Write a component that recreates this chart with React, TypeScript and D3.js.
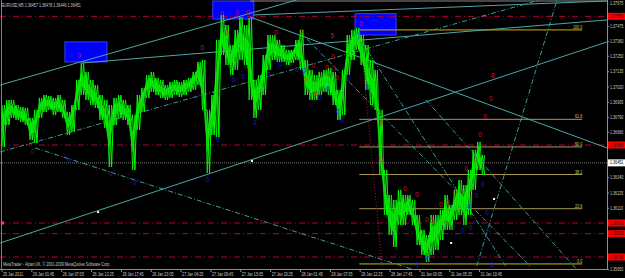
import React from "react";
import * as d3 from "d3";

// ---------- DATA ----------
const symbolTitle = "EURUSD,M5  1.36457 1.36478 1.36446 1.36451";
const footerText = "MetaTrader - Alpari UK, \u00a9 2001-2009 MetaQuotes Software Corp.";

// one sample every 10 bars (M5)
const sampleStep = 10;
const priceHigh = [
  1.36885, 1.36923, 1.36923, 1.36885, 1.3687, 1.36863, 1.36788, 1.36848, 1.36938, 1.3696,
  1.36953, 1.36938, 1.3696, 1.36923, 1.36833, 1.36885, 1.37073, 1.372, 1.37133, 1.37073,
  1.37035, 1.3696, 1.36923, 1.36885, 1.36938, 1.3696, 1.36923, 1.36885, 1.3681, 1.3696,
  1.37013, 1.3711, 1.37133, 1.37088, 1.37073, 1.37035, 1.37058, 1.37073, 1.37058, 1.37073,
  1.37088, 1.37133, 1.37208, 1.37223, 1.36848, 1.3696, 1.37373, 1.3756, 1.37485, 1.37335,
  1.37448, 1.37545, 1.37485, 1.37538, 1.37073, 1.3711, 1.3726, 1.3741, 1.3741, 1.37373,
  1.37335, 1.37298, 1.37298, 1.37373, 1.37448, 1.37223, 1.37148, 1.3711, 1.37133, 1.37148,
  1.37163, 1.37133, 1.36998, 1.37148, 1.3741, 1.37448, 1.37463, 1.3741, 1.37335, 1.37223,
  1.37148, 1.36848, 1.36398, 1.3621, 1.36173, 1.36248, 1.3621, 1.3621, 1.36173, 1.3606,
  1.35948, 1.3591, 1.3606, 1.3606, 1.36098, 1.3621, 1.36135, 1.36248, 1.36323, 1.36285,
  1.36398, 1.36548, 1.36608, 1.3651
];
const priceLow = [
  1.3657, 1.36735, 1.36788, 1.36773, 1.36758, 1.36735, 1.36623, 1.366, 1.36788, 1.36833,
  1.36848, 1.3681, 1.36833, 1.36788, 1.3666, 1.36683, 1.36848, 1.3696, 1.36923, 1.36885,
  1.36863, 1.36773, 1.36713, 1.3642, 1.36735, 1.36788, 1.36773, 1.36735, 1.36398, 1.36698,
  1.36833, 1.36938, 1.36983, 1.3696, 1.36938, 1.36923, 1.36938, 1.3696, 1.36945, 1.3696,
  1.36983, 1.36998, 1.37035, 1.36848, 1.36375, 1.3666, 1.36645, 1.3726, 1.37185, 1.3711,
  1.37148, 1.37223, 1.37185, 1.36923, 1.36788, 1.36848, 1.3696, 1.37148, 1.37223, 1.37208,
  1.37208, 1.37185, 1.372, 1.37223, 1.37148, 1.3696, 1.36923, 1.36923, 1.3696, 1.36983,
  1.3696, 1.36885, 1.36773, 1.3681, 1.3711, 1.37223, 1.37298, 1.37185, 1.36998, 1.36885,
  1.36848, 1.3636, 1.3606, 1.3591, 1.3582, 1.35985, 1.35985, 1.3606, 1.35985, 1.35835,
  1.3576, 1.35708, 1.3576, 1.35798, 1.35873, 1.35948, 1.35948, 1.36023, 1.3606, 1.35985,
  1.3606, 1.36248, 1.36398, 1.3636
];

const timeLabels = [
  "25 Jan 2011", "26 Jan 01:45", "26 Jan 07:05", "26 Jan 12:25", "26 Jan 17:45",
  "26 Jan 23:05", "27 Jan 04:25", "27 Jan 09:45", "27 Jan 15:05", "27 Jan 20:25",
  "28 Jan 01:45", "28 Jan 07:05", "28 Jan 12:25", "28 Jan 17:45", "31 Jan 00:05",
  "31 Jan 05:25", "31 Jan 10:45"
];
const barsPerTimeLabel = 64;

const priceTicks = [
  1.37475, 1.3736, 1.3725, 1.37135, 1.3702, 1.36905, 1.3679, 1.3668,
  1.3634, 1.36225, 1.3611, 1.3565
];
const topPrice = 1.37675;

// horizontal lines (crimson dash-dot) with price labels
const hLinePrices = [1.3755, 1.36585, 1.36, 1.3592, 1.35745];
const bidPrice = 1.36451;

// Fibonacci retracement
const fibHigh = 1.37448;
const fibLow = 1.35693;
const fibLevels = [0, 23.6, 38.2, 50, 61.8, 100];
const fibBarStart = 766;
const fibBarEnd = 1244;

// rectangles [bar1, bar2, priceTop, priceBottom]
const boxes = [
  [135, 225, 1.37358, 1.37208],
  [452, 540, 1.37665, 1.3753],
  [757, 845, 1.3757, 1.3741]
];

// trend lines [bar1, price1, bar2, price2]
const solidLines = [
  [-4, 1.37035, 632, 1.37673],
  [171, 1.372, 1297, 1.37523],
  [538, 1.3756, 1297, 1.37665],
  [532, 1.37545, 1297, 1.36563],
  [-4, 1.3585, 1297, 1.37358]
];
const dashDotLines = [
  [-4, 1.36533, 1153, 1.37673],
  [71, 1.36563, 918, 1.3561],
  [639, 1.37433, 1132, 1.35678],
  [909, 1.36923, 1233, 1.35648],
  [762, 1.3741, 1080, 1.35678],
  [1018, 1.35678, 1190, 1.37673]
];
const redDottedLines = [[768, 1.3741, 815, 1.35678]];
const grayTopLine = [532, 1.37665, 1297, 1.37665];

// wave labels [bar, price, text]
const redLabels: [number, number, string][] = [
  [165, 1.37253, "0"], [429, 1.37313, "0"], [472, 1.37568, "0"], [504, 1.37575, "0"],
  [527, 1.37575, "0"], [482, 1.37425, "0"], [587, 1.37425, "0"], [641, 1.37433, "0"],
  [708, 1.37403, "5"], [770, 1.37493, "0"], [710, 1.37245, "0"], [742, 1.37253, "0"],
  [667, 1.37178, "0"], [697, 1.37163, "0"], [712, 1.37155, "0"], [650, 1.37073, "0"],
  [678, 1.37073, "0"], [718, 1.37088, "0"], [671, 1.3696, "0"], [813, 1.3675, "0"],
  [813, 1.36473, "0"], [864, 1.3625, "0"], [1053, 1.37103, "8"], [1048, 1.3693, "0"],
  [1036, 1.36795, "0"], [1025, 1.3666, "0"], [1016, 1.36473, "0"], [995, 1.36405, "0"],
  [1012, 1.36308, "0"], [890, 1.3621, "0"], [971, 1.36225, "0"], [986, 1.36233, "0"],
  [941, 1.36135, "0"], [956, 1.3615, "0"], [911, 1.36023, "0"], [922, 1.36015, "0"]
];
const blueLabels: [number, number, string][] = [
  [66, 1.36533, "0"], [144, 1.36465, "0"], [234, 1.36367, "0"], [285, 1.363, "0"],
  [440, 1.36322, "0"], [463, 1.36623, "0"], [542, 1.3675, "0"], [497, 1.37073, "0"],
  [517, 1.37095, "0"], [572, 1.3711, "0"], [596, 1.37185, "0"], [632, 1.37148, "0"],
  [647, 1.3714, "0"], [699, 1.37005, "0"], [744, 1.3708, "0"], [785, 1.37013, "0"],
  [682, 1.36938, "0"], [720, 1.36833, "0"], [729, 1.36765, "0"], [1031, 1.3628, "0"],
  [1018, 1.36198, "0"], [1003, 1.3612, "0"], [1040, 1.36075, "0"], [967, 1.35963, "0"],
  [988, 1.3594, "0"], [1005, 1.35963, "0"], [1044, 1.35948, "0"], [913, 1.3573, "0"],
  [890, 1.3568, "0"], [1050, 1.3568, "0"]
];
const whiteDots = [[206, 1.36082], [536, 1.36465], [963, 1.3585], [1055, 1.3618]];

// ---------- LAYOUT ----------
const W = 625;
const H = 278;
const plotRight = 607;
const plotBottom = 269;
const FONT = "'Liberation Sans', Arial, sans-serif";
const FS = 4.6;
const SX = 0.8; // horizontal squeeze of the small terminal font

function SmallText(props: { x: number; y: number; fill: string; children: string; anchor?: string }) {
  return (
    <g transform={`translate(${props.x},${props.y}) scale(${SX},1)`}>
      <text x={0} y={0} fontSize={FS} fill={props.fill} textAnchor={props.anchor || "start"}>
        {props.children}
      </text>
    </g>
  );
}

export default function App() {
  const x = d3.scaleLinear().domain([0, barsPerTimeLabel]).range([2, 31.85]);
  const y = d3.scaleLinear().domain([1.35655, 1.376725]).range([plotBottom, 0]);

  const idx = d3.range(priceHigh.length);
  const half = sampleStep / 2;
  const zigA: [number, number][] = [];
  const zigB: [number, number][] = [];
  idx.forEach((i) => {
    zigA.push([x(i * sampleStep), y(priceHigh[i])]);
    zigA.push([x(i * sampleStep + half), y(priceLow[i])]);
    zigB.push([x(i * sampleStep), y(priceLow[i])]);
    zigB.push([x(i * sampleStep + half), y(priceHigh[i])]);
  });
  const line = d3.line();
  const area = d3
    .area<number>()
    .x((i) => x(i * sampleStep))
    .y0((i) => y(priceLow[i]) - (y(priceLow[i]) - y(priceHigh[i])) * 0.3)
    .y1((i) => y(priceHigh[i]) + (y(priceLow[i]) - y(priceHigh[i])) * 0.3);

  const fibPrice = (lv: number) => fibLow + (fibHigh - fibLow) * (lv / 100);

  const seg = (l: number[], key: string, stroke: string, dash?: string, w = 1) => (
    <line
      key={key}
      x1={x(l[0])}
      y1={y(l[1])}
      x2={x(l[2])}
      y2={y(l[3])}
      stroke={stroke}
      strokeWidth={w}
      strokeDasharray={dash}
    />
  );

  return (
    <svg
      width={W}
      height={H}
      style={{ position: "absolute", left: 0, top: 0, background: "#000" }}
      fontFamily={FONT}
    >
      <rect x={0} y={0} width={W} height={H} fill="#000" />
      <defs>
        <clipPath id="plot">
          <rect x={0} y={0} width={plotRight} height={plotBottom} />
        </clipPath>
      </defs>

      <g clipPath="url(#plot)">
        {boxes.map((b, i) => (
          <rect
            key={"b" + i}
            x={x(b[0])}
            y={y(b[2])}
            width={x(b[1]) - x(b[0])}
            height={y(b[3]) - y(b[2])}
            fill="#0000ff"
            stroke="#3a3aff"
            strokeWidth={1}
          />
        ))}

        {hLinePrices.map((p, i) => (
          <line
            key={"h" + i}
            x1={0}
            x2={plotRight}
            y1={y(p)}
            y2={y(p)}
            stroke="#b4003c"
            strokeWidth={1}
            strokeDasharray="6,3,1,3"
          />
        ))}
        <line x1={0} x2={plotRight} y1={y(bidPrice)} y2={y(bidPrice)} stroke="#777" strokeDasharray="1,1" />

        {seg(grayTopLine, "gt", "#8a8a8a")}

        {fibLevels.map((lv) => (
          <line
            key={"f" + lv}
            x1={x(fibBarStart)}
            x2={x(fibBarEnd)}
            y1={y(fibPrice(lv))}
            y2={y(fibPrice(lv))}
            stroke={lv === 0 || lv === 100 ? "#c8b400" : "#a89858"}
            strokeWidth={1}
          />
        ))}

        {solidLines.map((l, i) => seg(l, "s" + i, "#4fa6a6"))}
        {dashDotLines.map((l, i) => seg(l, "d" + i, "#3f9a9a", "5,2,1,2"))}
        {redDottedLines.map((l, i) => seg(l, "r" + i, "#c0105a", "1,2"))}

        <path d={area(idx) || ""} fill="#00d000" />
        <path d={line(zigA) || ""} fill="none" stroke="#00ff00" strokeWidth={1} />
        <path d={line(zigB) || ""} fill="none" stroke="#10e010" strokeWidth={1} />

        {redLabels.map((l, i) => (
          <text
            key={"rl" + i}
            x={x(l[0])}
            y={y(l[1])}
            textAnchor="middle"
            dominantBaseline="middle"
            fontSize={6.5}
            fill="#d0103c"
          >
            {l[2]}
          </text>
        ))}
        {blueLabels.map((l, i) => (
          <text
            key={"bl" + i}
            x={x(l[0])}
            y={y(l[1])}
            textAnchor="middle"
            dominantBaseline="middle"
            fontSize={6.5}
            fill="#1818e8"
          >
            {l[2]}
          </text>
        ))}
        {whiteDots.map((d, i) => (
          <rect key={"w" + i} x={x(d[0]) - 1} y={y(d[1]) - 1} width={2} height={2} fill="#fff" />
        ))}
        <rect x={1} y={y(1.36) - 1.5} width={3} height={3} fill="#ff4040" />
      </g>

      {fibLevels.map((lv) => (
        <SmallText key={"ft" + lv} x={x(fibBarEnd)} y={y(fibPrice(lv)) - 1} fill="#d8c860" anchor="end">
          {lv.toFixed(1)}
        </SmallText>
      ))}

      <SmallText x={2} y={7} fill="#c8c8c8">
        {symbolTitle}
      </SmallText>
      <SmallText x={3} y={266} fill="#c8c8c8">
        {footerText}
      </SmallText>

      <line x1={1.5} x2={1.5} y1={0} y2={plotBottom} stroke="#808080" />
      <line x1={plotRight + 0.5} x2={plotRight + 0.5} y1={0} y2={plotBottom + 0.5} stroke="#909090" />
      <line x1={0} x2={plotRight} y1={plotBottom + 0.5} y2={plotBottom + 0.5} stroke="#909090" />

      <SmallText x={610} y={y(topPrice) + 5} fill="#c8c8c8">
        {topPrice.toFixed(5)}
      </SmallText>
      {priceTicks.map((p) => (
        <g key={"pt" + p}>
          <line x1={plotRight} x2={plotRight + 2} y1={y(p)} y2={y(p)} stroke="#909090" />
          <SmallText x={610} y={y(p) + 1.6} fill="#c8c8c8">
            {p.toFixed(5)}
          </SmallText>
        </g>
      ))}
      {hLinePrices.map((p, i) => (
        <g key={"hl" + i}>
          <rect x={plotRight + 1} y={y(p) - 3.5} width={W - plotRight - 1} height={7} fill="#ff0000" />
          <SmallText x={610} y={y(p) + 1.6} fill="#400000">
            {p.toFixed(5)}
          </SmallText>
        </g>
      ))}
      <rect x={plotRight + 1} y={y(bidPrice) - 3.5} width={W - plotRight - 1} height={7} fill="#fff" />
      <SmallText x={610} y={y(bidPrice) + 1.6} fill="#000">
        {bidPrice.toFixed(5)}
      </SmallText>

      {timeLabels.map((t, j) => (
        <g key={"t" + j}>
          <line
            x1={x(j * barsPerTimeLabel)}
            x2={x(j * barsPerTimeLabel)}
            y1={plotBottom}
            y2={plotBottom + 3}
            stroke="#909090"
          />
          <SmallText x={x(j * barsPerTimeLabel) + 1} y={276} fill="#c8c8c8">
            {t}
          </SmallText>
        </g>
      ))}
    </svg>
  );
}
